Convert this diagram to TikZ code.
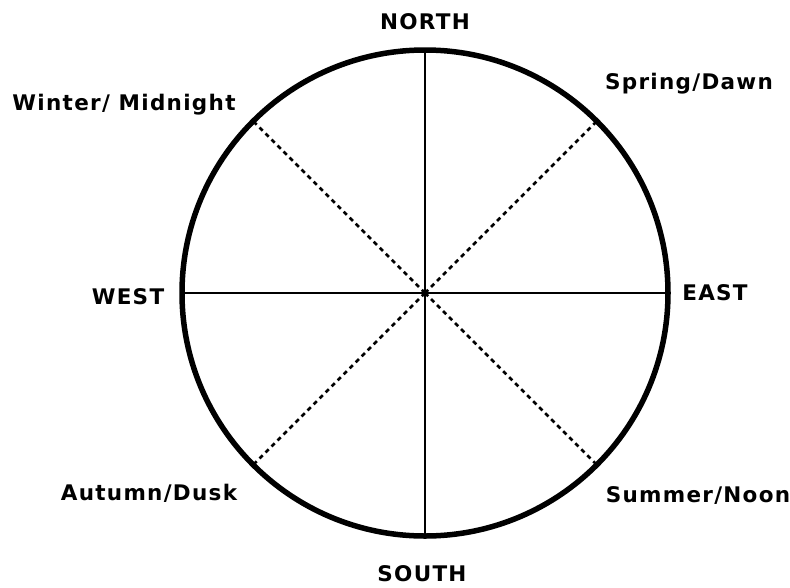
\documentclass[tikz,border=0pt]{standalone}
\usepackage{fontspec}
\setmainfont{DejaVu Sans}[LetterSpace=6]
\begin{document}
\begin{tikzpicture}[x=1pt,y=-1pt,
  lbl/.style={font=\bfseries\fontsize{21.5}{24}\selectfont, inner sep=0pt},
  ring/.style={line width=5.5pt},
  axis/.style={line width=2pt},
  diag/.style={line width=2.6pt, dash pattern=on 4.5pt off 4pt}]
\useasboundingbox (0,0) rectangle (790,587);
\coordinate (c) at (425,293);
\coordinate (n) at (425,50);
\coordinate (s) at (425,537);
\coordinate (w) at (182,293);
\coordinate (e) at (668,293);
\draw[axis] (n) -- (s);
\draw[axis] (w) -- (e);
\draw[diag] (c) -- ++(45:243);
\draw[diag] (c) -- ++(135:243);
\draw[diag] (c) -- ++(-45:243);
\draw[diag] (c) -- ++(-135:243);
\draw[ring] (c) circle (243);
\node[lbl] (north) at (425,22) {NORTH};
\node[lbl] (south) at (422,574) {SOUTH};
\node[lbl] (west) at (128,297) {WEST};
\node[lbl] (east) at (715,293) {EAST};
\node[lbl] (spring) at (689,84) {Spring/Dawn};
\node[lbl] (winter) at (124,105) {Winter/ Midnight};
\node[lbl] (autumn) at (149,493) {Autumn/Dusk};
\node[lbl] (summer) at (698,496) {Summer/Noon};
\end{tikzpicture}
\end{document}
